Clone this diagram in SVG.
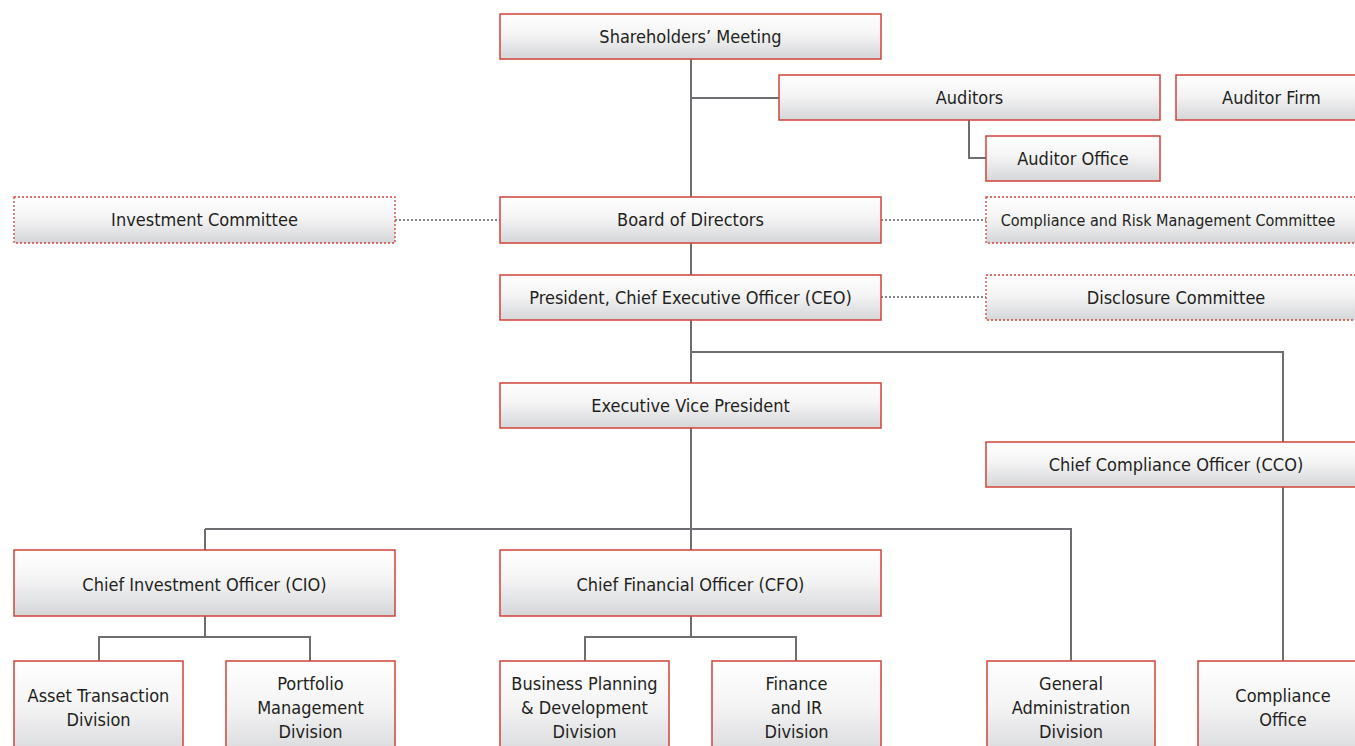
<svg xmlns="http://www.w3.org/2000/svg" width="1355" height="746" viewBox="0 0 1355 746">
<defs>
<linearGradient id="g" x1="0" y1="0" x2="0" y2="1">
<stop offset="0" stop-color="#ffffff"/>
<stop offset="0.45" stop-color="#f4f4f5"/>
<stop offset="1" stop-color="#d5d6d8"/>
</linearGradient>
<style>
.b{fill:url(#g);stroke:#d0443a;stroke-width:1.5}
.d{fill:url(#g);stroke:#d0443a;stroke-width:1.3;stroke-dasharray:2 2}
.t{font-family:"DejaVu Sans Condensed","DejaVu Sans","Liberation Sans",sans-serif;font-stretch:condensed;font-size:18px;fill:#231f20;text-anchor:middle}
.c{fill:none;stroke:#6d6e71;stroke-width:2}
.o{fill:none;stroke:#5d5e61;stroke-width:1.3;stroke-dasharray:2 2}
</style>
</defs>
<rect width="1355" height="746" fill="#ffffff"/>
<g id="connectors">
<path class="c" d="M691 59V197M691 98H779M969 120V158H986M691 243V275M691 320V383M691 352H1283V442M1283 487V661M691 428V550M205 529H1071V661M205 529V550M205 616V637M99 661V637H310V661M691 616V637M585 661V637H796V661"/>
<path class="o" d="M395 220H500M881 220H986M881 297H986"/>
</g>
<g id="shareholders"><rect class="b" x="500" y="14" width="381" height="45"/><text class="t" x="690.5" y="43">Shareholders’ Meeting</text></g>
<g id="auditors"><rect class="b" x="779" y="75" width="381" height="45"/><text class="t" x="969.5" y="104">Auditors</text></g>
<g id="auditor-firm"><rect class="b" x="1176" y="75" width="191" height="45"/><text class="t" x="1271.5" y="104">Auditor Firm</text></g>
<g id="auditor-office"><rect class="b" x="986" y="136" width="174" height="45"/><text class="t" x="1073" y="165">Auditor Office</text></g>
<g id="investment-committee"><rect class="d" x="14" y="197" width="381" height="46"/><text class="t" x="204.5" y="226">Investment Committee</text></g>
<g id="board"><rect class="b" x="500" y="197" width="381" height="46"/><text class="t" x="690.5" y="226">Board of Directors</text></g>
<g id="compliance-risk"><rect class="d" x="986" y="197" width="381" height="46"/><text class="t" x="1168" y="226" style="font-size:16px">Compliance and Risk Management Committee</text></g>
<g id="ceo"><rect class="b" x="500" y="275" width="381" height="45"/><text class="t" x="690.5" y="304">President, Chief Executive Officer (CEO)</text></g>
<g id="disclosure"><rect class="d" x="986" y="275" width="381" height="45"/><text class="t" x="1176" y="304">Disclosure Committee</text></g>
<g id="evp"><rect class="b" x="500" y="383" width="381" height="45"/><text class="t" x="690.5" y="412">Executive Vice President</text></g>
<g id="cco"><rect class="b" x="986" y="442" width="381" height="45"/><text class="t" x="1176" y="471">Chief Compliance Officer (CCO)</text></g>
<g id="cio"><rect class="b" x="14" y="550" width="381" height="66"/><text class="t" x="204.5" y="591">Chief Investment Officer (CIO)</text></g>
<g id="cfo"><rect class="b" x="500" y="550" width="381" height="66"/><text class="t" x="690.5" y="591">Chief Financial Officer (CFO)</text></g>
<g id="asset"><rect class="b" x="14" y="661" width="169" height="100"/><text class="t" x="98.5" y="702">Asset Transaction</text><text class="t" x="98.5" y="726">Division</text></g>
<g id="portfolio"><rect class="b" x="226" y="661" width="169" height="100"/><text class="t" x="310.5" y="690">Portfolio</text><text class="t" x="310.5" y="714">Management</text><text class="t" x="310.5" y="738">Division</text></g>
<g id="business-planning"><rect class="b" x="500" y="661" width="169" height="100"/><text class="t" x="584.5" y="690">Business Planning</text><text class="t" x="584.5" y="714">&amp; Development</text><text class="t" x="584.5" y="738">Division</text></g>
<g id="finance"><rect class="b" x="712" y="661" width="169" height="100"/><text class="t" x="796.5" y="690">Finance</text><text class="t" x="796.5" y="714">and IR</text><text class="t" x="796.5" y="738">Division</text></g>
<g id="general-admin"><rect class="b" x="987" y="661" width="168" height="100"/><text class="t" x="1071" y="690">General</text><text class="t" x="1071" y="714">Administration</text><text class="t" x="1071" y="738">Division</text></g>
<g id="compliance-office"><rect class="b" x="1198" y="661" width="169" height="100"/><text class="t" x="1283" y="702">Compliance</text><text class="t" x="1283" y="726">Office</text></g>
</svg>
